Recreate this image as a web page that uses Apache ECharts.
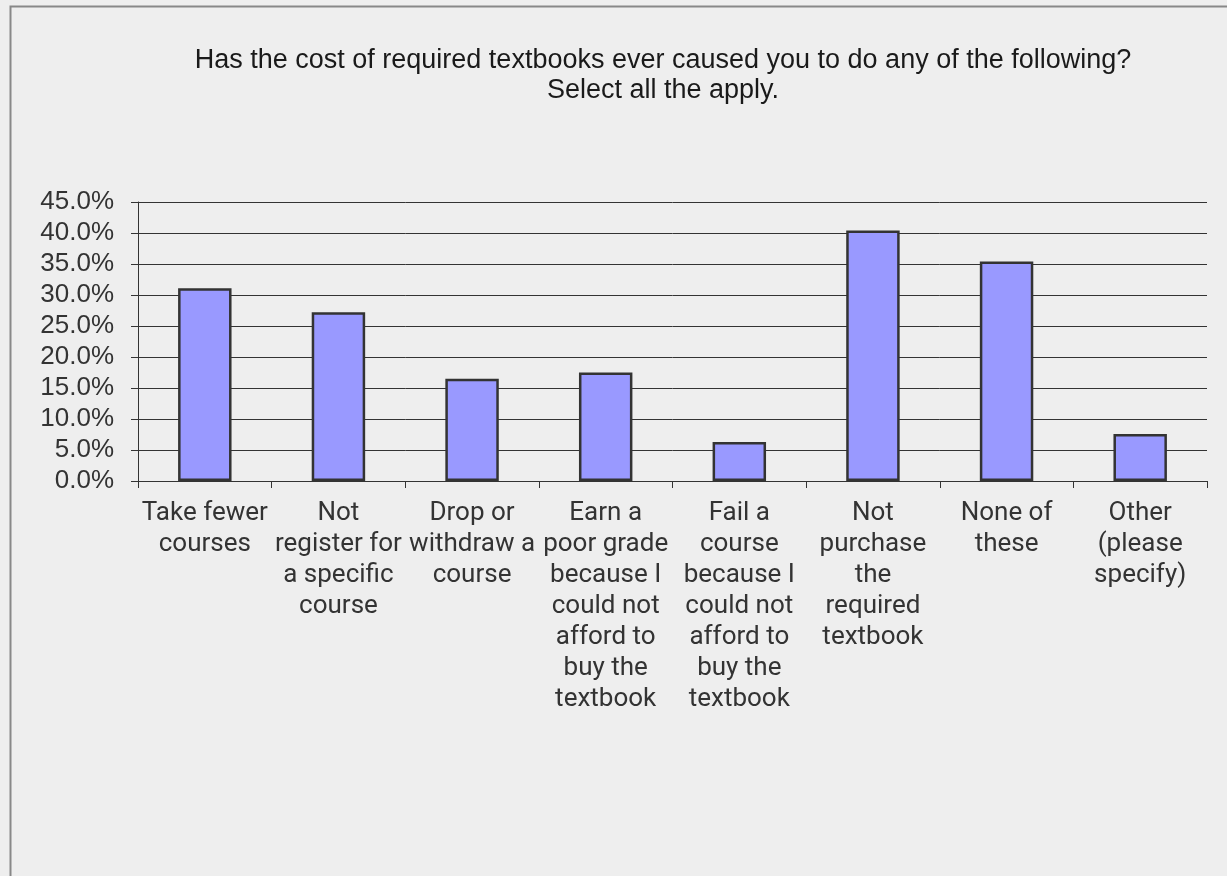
<!DOCTYPE html>
<html>
<head>
<meta charset="utf-8">
<script src="https://cdn.jsdelivr.net/npm/echarts@6/dist/echarts.min.js"></script>
<style>
html,body{margin:0;padding:0;background:#eeeeee;}
#c{width:1227px;height:876px;}
</style>
</head>
<body>
<div id="c"></div>
<script>
const titleText = "Has the cost of required textbooks ever caused you to do any of the following?\nSelect all the apply.";
const categories = [
  "Take fewer\ncourses",
  "Not\nregister for\na specific\ncourse",
  "Drop or\nwithdraw a\ncourse",
  "Earn a\npoor grade\nbecause I\ncould not\nafford to\nbuy the\ntextbook",
  "Fail a\ncourse\nbecause I\ncould not\nafford to\nbuy the\ntextbook",
  "Not\npurchase\nthe\nrequired\ntextbook",
  "None of\nthese",
  "Other\n(please\nspecify)"
];
const values = [31.1, 27.2, 16.5, 17.5, 6.3, 40.4, 35.4, 7.6];
const yTicks = {min: 0, max: 45, interval: 5};

const chart = echarts.init(document.getElementById('c'), null, {renderer: 'canvas'});
chart.setOption({
  backgroundColor: '#eeeeee',
  animation: false,
  title: {
    text: titleText,
    left: 658,
    top: 41,
    textAlign: 'center',
    textStyle: {
      fontFamily: 'Liberation Sans',
      fontSize: 27,
      fontWeight: 'normal',
      color: '#1a1a1a',
      lineHeight: 30
    }
  },
  graphic: [{
    type: 'polyline',
    shape: {points: [[10.5, 876], [10.5, 6.5], [1227, 6.5]]},
    style: {stroke: '#888', lineWidth: 2, fill: null},
    silent: true
  }],
  grid: {left: 138, right: 20, top: 202, bottom: 395, containLabel: false},
  xAxis: {
    type: 'category',
    data: categories,
    axisLine: {show: true, lineStyle: {color: '#333', width: 1}},
    axisTick: {show: true, alignWithLabel: false, length: 7, lineStyle: {color: '#333'}},
    axisLabel: {
      interval: 0,
      margin: 17,
      fontFamily: 'Roboto',
      fontSize: 26,
      lineHeight: 31,
      color: '#333'
    }
  },
  yAxis: {
    type: 'value',
    min: yTicks.min,
    max: yTicks.max,
    interval: yTicks.interval,
    axisLine: {show: true, lineStyle: {color: '#333', width: 1}},
    axisTick: {show: true, length: 7, lineStyle: {color: '#333'}},
    splitLine: {show: true, lineStyle: {color: '#333', width: 1}},
    axisLabel: {
      margin: 24,
      fontFamily: 'Liberation Sans',
      fontSize: 26,
      color: '#333',
      formatter: v => v.toFixed(1) + '%'
    }
  },
  series: [{
    type: 'bar',
    data: values,
    barWidth: '40%',
    itemStyle: {color: '#9999ff', borderColor: '#333', borderWidth: 2.5}
  }]
});
</script>
</body>
</html>
